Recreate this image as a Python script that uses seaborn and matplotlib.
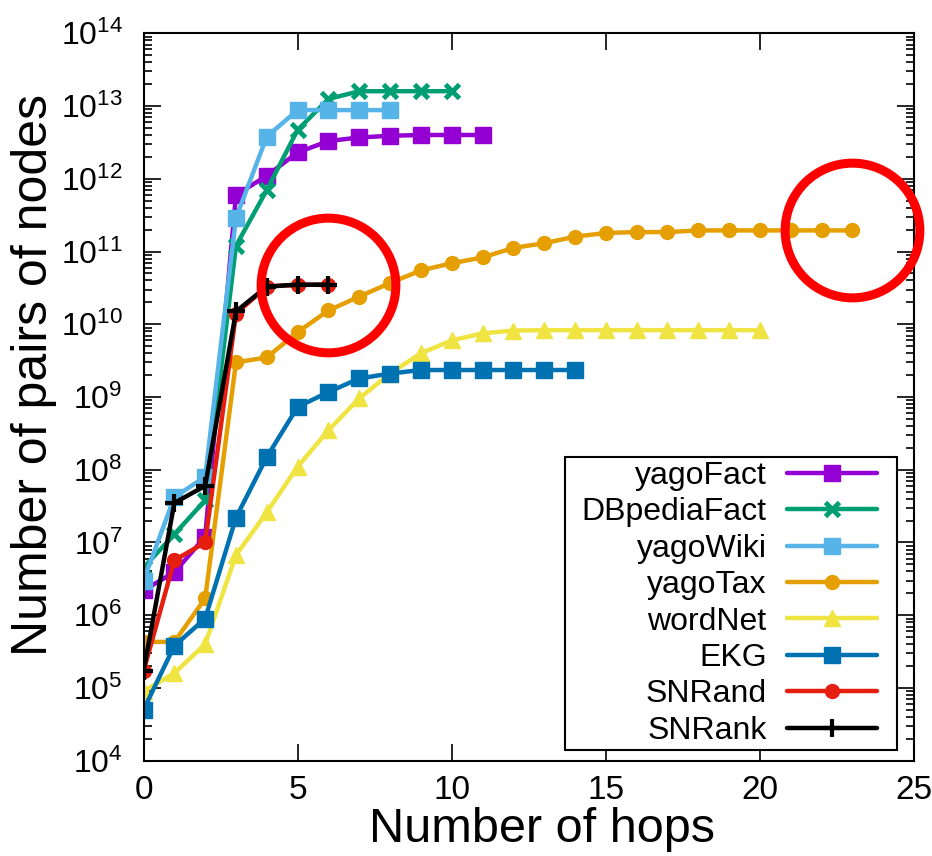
import matplotlib
matplotlib.use("Agg")
import matplotlib.pyplot as plt
import matplotlib.patches as mpatches
import seaborn as sns
import numpy as np
from matplotlib.ticker import LogLocator, FixedLocator, NullFormatter

# ---- data ----
series_names = ["yagoFact", "DBpediaFact", "yagoWiki", "yagoTax", "wordNet", "EKG", "SNRand", "SNRank"]
yagoFact = [2.2e6, 3.9e6, 1.2e7, 6e11, 1.1e12, 2.3e12, 3.3e12, 3.7e12, 3.9e12, 4.0e12, 4.0e12, 4.0e12]
DBpediaFact = [4.5e6, 1.3e7, 3.8e7, 1.2e11, 7e11, 4.7e12, 1.25e13, 1.6e13, 1.6e13, 1.6e13, 1.6e13]
yagoWiki = [3.0e6, 4.2e7, 8e7, 2.9e11, 3.8e12, 8.8e12, 8.8e12, 8.8e12, 8.8e12]
yagoTax = [4.3e5, 4.3e5, 1.7e6, 3e9, 3.5e9, 7.8e9, 1.55e10, 2.4e10, 3.7e10, 5.5e10, 6.9e10,
           8.3e10, 1.12e11, 1.3e11, 1.6e11, 1.8e11, 1.85e11, 1.85e11, 1.95e11, 1.95e11,
           1.95e11, 1.95e11, 1.95e11, 1.95e11]
wordNet = [9e4, 1.6e5, 4e5, 6.7e6, 2.6e7, 1.1e8, 3.5e8, 9.6e8, 2.1e9, 4e9, 6e9, 7.5e9,
           8.2e9, 8.3e9, 8.3e9, 8.3e9, 8.3e9, 8.3e9, 8.3e9, 8.3e9, 8.3e9]
EKG = [5e4, 3.8e5, 9e5, 2.2e7, 1.5e8, 7.3e8, 1.17e9, 1.8e9, 2.1e9, 2.35e9, 2.35e9, 2.35e9,
       2.35e9, 2.35e9, 2.35e9]
SNRand = [1.7e5, 5.7e6, 1e7, 1.4e10, 3.3e10, 3.5e10, 3.5e10]
SNRank = [1.7e5, 3.5e7, 6e7, 1.5e10, 3.3e10, 3.5e10, 3.5e10]
series_values = [yagoFact, DBpediaFact, yagoWiki, yagoTax, wordNet, EKG, SNRand, SNRank]

colors = ["#9400D3", "#009E73", "#56B4E9", "#E69F00", "#F0E442", "#0072B2", "#E51E10", "#000000"]
markers = ["s", "x", "s", "o", "^", "s", "o", "+"]
msizes = [11, 10, 11, 10, 12, 11, 10, 13]
mews = [1, 3.5, 1, 1, 1, 1, 1, 3]

x_ticks = [0, 5, 10, 15, 20, 25]
y_exponents = list(range(4, 15))

sns.set_theme(style="white")
plt.rcParams["font.family"] = ["Liberation Sans", "DejaVu Sans"]
plt.rcParams["mathtext.fontset"] = "custom"
plt.rcParams["mathtext.rm"] = "Liberation Sans"
plt.rcParams["mathtext.it"] = "Liberation Sans"
plt.rcParams["text.color"] = "black"
plt.rcParams["axes.labelcolor"] = "black"
plt.rcParams["xtick.color"] = "black"
plt.rcParams["ytick.color"] = "black"

fig = plt.figure(figsize=(9.32, 8.56), dpi=100)
ax = fig.add_axes([0.154, 0.1113, 0.8267, 0.8498])

for name, vals, c, m, ms, mew in zip(series_names, series_values, colors, markers, msizes, mews):
    hops = np.arange(len(vals))
    sns.lineplot(x=hops, y=vals, ax=ax, color=c, marker=m, markersize=ms,
                 markeredgecolor=c, markeredgewidth=mew, linewidth=3.2,
                 label=name, estimator=None, sort=False)

# red highlight circles around end points of SNRank and yagoTax
ax.plot([len(SNRank) - 1], [SNRank[-1]], marker="o", markersize=97, markerfacecolor="none",
        markeredgecolor="#FF0000", markeredgewidth=6.5, linestyle="none", zorder=10,
        clip_on=False)
ax.plot([len(yagoTax) - 1], [yagoTax[-1]], marker="o", markersize=97, markerfacecolor="none",
        markeredgecolor="#FF0000", markeredgewidth=6.5, linestyle="none", zorder=10,
        clip_on=False)

ax.set_yscale("log")
ax.set_xlim(0, 25)
ax.set_ylim(1e4, 1e14)
ax.xaxis.set_major_locator(FixedLocator(x_ticks))
ax.set_xticklabels([str(t) for t in x_ticks])
ax.yaxis.set_major_locator(FixedLocator([10.0 ** e for e in y_exponents]))
ax.set_yticklabels([r"$10^{%d}$" % e for e in y_exponents])
ax.yaxis.set_minor_locator(LogLocator(base=10, subs=np.arange(2, 10), numticks=100))
ax.yaxis.set_minor_formatter(NullFormatter())

ax.tick_params(axis="both", which="both", direction="in", top=True, right=True,
               left=True, bottom=True, color="black", labelcolor="black")
ax.tick_params(axis="x", which="major", length=12.5, width=1.2, labelsize=24, pad=10)
ax.tick_params(axis="y", which="major", length=12.5, width=1.2, labelsize=23, pad=15)
ax.tick_params(axis="y", which="minor", length=6, width=1.2)
for s in ax.spines.values():
    s.set_color("black")
    s.set_linewidth(1.5)

ax.set_xlabel("Number of hops", fontsize=35)
ax.xaxis.set_label_coords(0.517, -0.063)
ax.set_ylabel("Number of pairs of nodes", fontsize=36)
ax.yaxis.set_label_coords(-0.112, 0.53)

# legend: text right-aligned, sample on the right
leg = ax.legend(loc="lower right", bbox_to_anchor=(0.9559, 0.0161), markerfirst=False,
                fontsize=23, frameon=False, handlelength=2.8, handletextpad=0.65,
                labelspacing=0.2, borderpad=0.1, borderaxespad=0.0, numpoints=1)
leg.set_zorder(12)
fig.canvas.draw()
bb = leg.get_window_extent()
W, H = fig.bbox.width, fig.bbox.height
x0 = bb.x0 - 13
x1 = bb.x1 + 17
y0 = bb.y0 - 1
y1 = bb.y1 + 1
frame = mpatches.Rectangle((x0 / W, y0 / H), (x1 - x0) / W, (y1 - y0) / H,
                           transform=fig.transFigure, facecolor="white",
                           edgecolor="black", linewidth=1.5, zorder=11)
fig.add_artist(frame)
leg.remove()
fig.add_artist(leg)

fig.savefig("out.png", dpi=100)
